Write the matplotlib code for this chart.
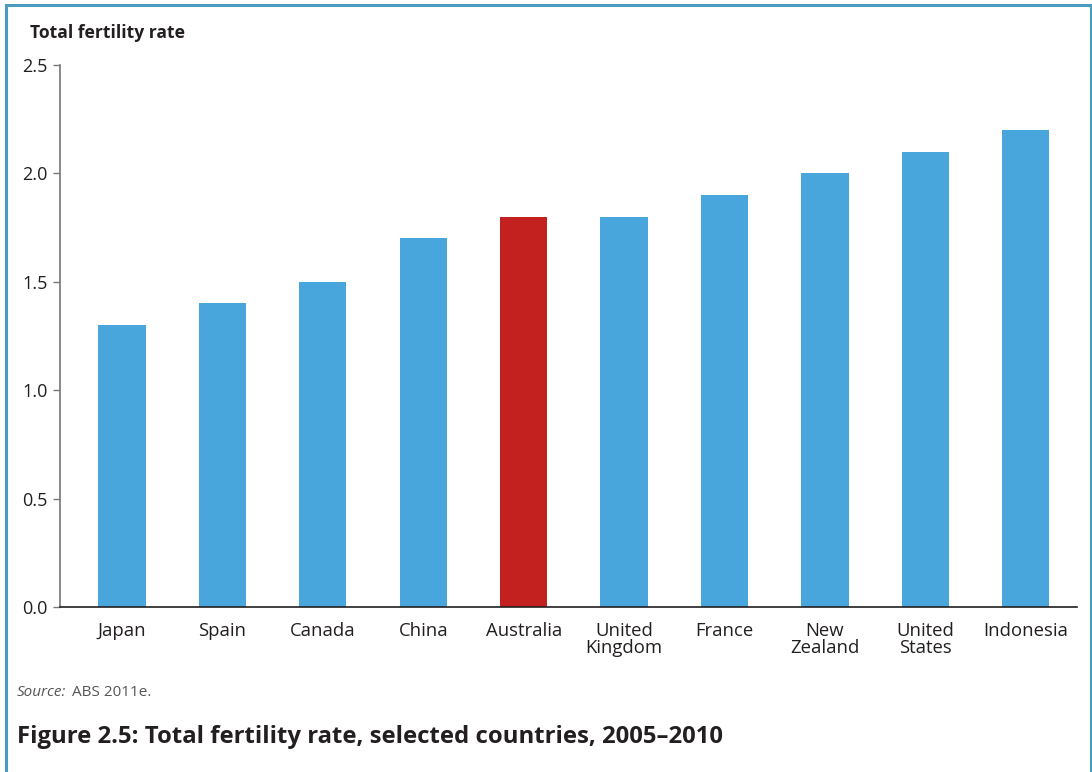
import matplotlib
matplotlib.use("Agg")
import matplotlib.pyplot as plt

countries = ["Japan", "Spain", "Canada", "China", "Australia", "United\nKingdom",
             "France", "New\nZealand", "United\nStates", "Indonesia"]
fertility = [1.3, 1.4, 1.5, 1.7, 1.8, 1.8, 1.9, 2.0, 2.1, 2.2]
highlight = "Australia"

plt.rcParams["font.family"] = ["Open Sans", "DejaVu Sans"]
text_col = "#231f20"
blue = "#48a6dc"
red = "#c32020"

fig = plt.figure(figsize=(10.92, 7.72), dpi=100)
W, H = 1092, 772
ax = fig.add_axes([60 / W, 1 - 607 / H, (1077 - 60) / W, (607 - 65) / H])

colors = [red if c == highlight else blue for c in countries]
x = list(range(len(countries)))
ax.bar(x, fertility, width=0.47, color=colors, zorder=2)

ax.set_xlim(-0.617, 9.51)
ax.set_ylim(0, 2.5)
ax.set_yticks([0, 0.5, 1.0, 1.5, 2.0, 2.5])
ax.set_yticklabels(["0.0", "0.5", "1.0", "1.5", "2.0", "2.5"])
ax.set_xticks(x)
ax.set_xticklabels(countries, linespacing=0.9)
ax.tick_params(axis="x", length=0, pad=11, labelsize=13.3, colors=text_col)
ax.tick_params(axis="y", length=5, width=1, pad=4, labelsize=13, colors=text_col,
               color="#777777")
for s in ["top", "right"]:
    ax.spines[s].set_visible(False)
ax.spines["left"].set_color("#777777")
ax.spines["bottom"].set_color("#231f20")
ax.spines["left"].set_linewidth(1.2)
ax.spines["bottom"].set_linewidth(1.2)

fig.text(30 / W, 1 - 33 / H, "Total fertility rate", fontsize=12.6, fontweight="bold",
         color=text_col, va="center", ha="left")

fig.text(17 / W, 1 - 692 / H, "Source:", fontsize=11, style="italic", color="#555555",
         va="center", ha="left")
fig.text(72 / W, 1 - 692 / H, "ABS 2011e.", fontsize=11, color="#555555",
         va="center", ha="left")
fig.text(17 / W, 1 - 737 / H, "Figure 2.5: Total fertility rate, selected countries, 2005\u20132010",
         fontsize=17.2, fontweight="bold", color=text_col, va="center", ha="left")

# frame around the figure (open at the bottom)
border = "#4a9bc0"
fig.add_artist(plt.Line2D([6 / W, 6 / W], [0, 1 - 5 / H], color=border, lw=2.2,
                          transform=fig.transFigure))
fig.add_artist(plt.Line2D([6 / W, 1091 / W], [1 - 5 / H, 1 - 5 / H], color=border, lw=2.2,
                          transform=fig.transFigure))
fig.add_artist(plt.Line2D([1091 / W, 1091 / W], [0, 1 - 5 / H], color=border, lw=2.2,
                          transform=fig.transFigure))

fig.savefig("out.png", dpi=100)
